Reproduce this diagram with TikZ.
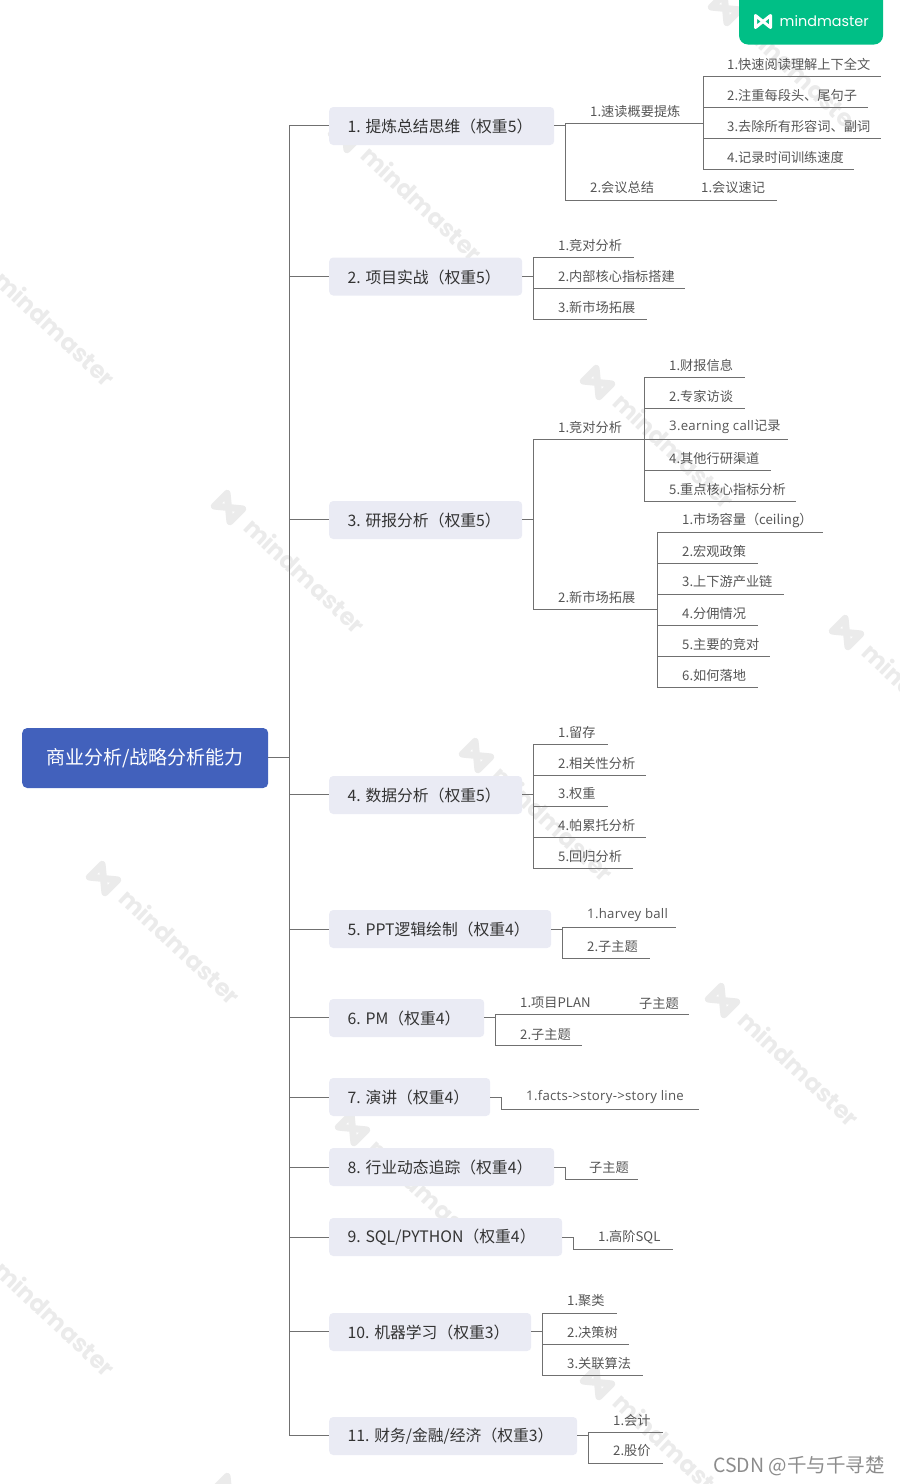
\documentclass[tikz,border=0pt]{standalone}
\usepackage{fontspec}
\setmainfont{Noto Sans CJK SC}
\newfontfamily\wmfont{Poppins}
\newfontfamily\latinfont[LetterSpace=2]{Open Sans}
\begin{document}
\begin{tikzpicture}[x=1pt,y=-1pt,shift={(0.5,0.5)},
  branch/.style={draw=linegray,line width=1pt},
  leaf/.style={anchor=west,inner sep=0pt,text=leafgray,font=\fontsize{13.2}{15}\selectfont},
  topic/.style={anchor=west,fill=topicfill,rounded corners=4pt,minimum height=38pt,inner sep=0pt},
  topictext/.style={anchor=west,inner sep=0pt,text=topicgray,font=\fontsize{15.8}{18}\selectfont},
  root/.style={anchor=west,fill=rootblue,rounded corners=5pt,minimum width=246pt,minimum height=60pt,
    inner sep=0pt,text=white,font=\fontsize{19}{22}\selectfont},
  wmtext/.style={anchor=west,inner sep=0pt,text=wmgray,font=\wmfont\bfseries\fontsize{24}{26}\selectfont,rotate=-43},
  wmicon/.style={draw=wmgray,line width=7pt,line join=round},
]
\definecolor{linegray}{HTML}{707070}
\definecolor{leafgray}{HTML}{555555}
\definecolor{topicgray}{HTML}{333333}
\definecolor{topicfill}{HTML}{EAEBF4}
\definecolor{rootblue}{HTML}{4261BC}
\definecolor{wmgray}{HTML}{EBEBEB}
\definecolor{logogreen}{HTML}{00BF86}
\useasboundingbox (-0.5,-0.5) rectangle (899.5,1483.5);

% the watermarks
\foreach \i/\x/\y in {1/725/8,2/345/135,3/-22/260,4/228/507,5/597/382,6/846/632,7/476/755,
  8/103/878,9/722/1000,10/352/1128,11/-22/1250,12/597/1382,13/228/1490} {
\draw[wmicon,shift={(\x,\y)},rotate=-45] (-11,-9) -- (11,9) -- (11,-9) -- (-11,9) -- cycle;
\node[wmtext] (wm\i) at (\x+20,\y+15) {mindmaster};
}

% the logo
\fill[logogreen,rounded corners=9pt] (738.5,-20) rectangle (882.5,44);
\draw[white,line width=3pt,line join=round] (755,15) -- (770,27) -- (770,15) -- (755,27) -- cycle;
\node[anchor=west,inner sep=0pt,text=white,font=\wmfont\fontsize{14.4}{18}\selectfont] (logo) at (779,21) {mindmaster};

% the root and the trunk
\node[root] (root) at (21.5,757.5) {商业分析/战略分析能力};
\coordinate (trunk) at (289,757);
\draw[branch] (root.east |- trunk) -- (trunk);

% the topics
\foreach \i/\y/\w/\t in {1/125.5/225/{1. 提炼总结思维（权重5）},2/276/193/{2. 项目实战（权重5）},
  3/519.5/193/{3. 研报分析（权重5）},4/794.5/193/{4. 数据分析（权重5）},5/928.5/222/{5. PPT逻辑绘制（权重4）},
  6/1017.5/155/{6. PM（权重4）},7/1096.5/161/{7. 演讲（权重4）},8/1166.5/225/{8. 行业动态追踪（权重4）},
  9/1236.5/233/{9. SQL/PYTHON（权重4）},10/1331.5/202/{10. 机器学习（权重3）},11/1435.5/248/{11. 财务/金融/经济（权重3）}}
{
\node[topic,minimum width=\w pt] (t\i) at (328.5,\y) {};
\node[topictext] (tt\i) at (347,\y+0.5) {\t};
}

% the junctions behind each topic
\foreach \i/\x/\y in {1/565/125,2/533/276,3/533/519,4/533/794,5/562/929,6/495/1017,7/501/1097,8/565/1167,9/573/1237,10/542/1331,11/588/1435} {
\coordinate (j\i) at (\x,\y);
\draw[branch] (trunk) |- (t\i.west |- j\i);
\draw[branch] (t\i.east |- j\i) -- (j\i);
}

% topic 1
\coordinate (ja) at (703,123);
\draw[branch] (j1) |- (ja);
\node[leaf] (la) at (589.5,110.5) {1.速读概要提炼};
\foreach \i/\y/\e/\t in {1/76/880/1.快速阅读理解上下全文,2/107/867/2.注重每段头、尾句子,
  3/138/880/3.去除所有形容词、副词,4/169/853/4.记录时间训练速度} {
\coordinate (ae\i) at (\e,\y);
\node[leaf] (a\i) at (726.5,\y-12.5) {\t};
\draw[branch] (ja) |- (ae\i);
}
\coordinate (je) at (776,200);
\draw[branch] (j1) |- (je);
\node[leaf] (lb) at (589.5,187.5) {2.会议总结};
\node[leaf] (b1) at (700.5,187.5) {1.会议速记};

% topic 2
\foreach \i/\y/\e/\t in {1/257/633/1.竞对分析,2/288/684/2.内部核心指标搭建,3/319/646/3.新市场拓展} {
\coordinate (ce\i) at (\e,\y);
\node[leaf] (c\i) at (557.5,\y-12.5) {\t};
\draw[branch] (j2) |- (ce\i);
}

% topic 3
\coordinate (jd) at (644,439);
\coordinate (jf) at (657,609);
\draw[branch] (j3) |- (jd);
\draw[branch] (j3) |- (jf);
\node[leaf] (ld) at (557.5,426.5) {1.竞对分析};
\node[leaf] (lf) at (557.5,596.5) {2.新市场拓展};
\foreach \i/\y/\e/\t in {1/377/744/1.财报信息,2/408/744/2.专家访谈,3/439/787/{\latinfont 3.earning call}记录,
  4/470/770/4.其他行研渠道,5/501/795/5.重点核心指标分析} {
\coordinate (de\i) at (\e,\y);
\node[leaf] (d\i) at (668.5,\y-12.5) {\t};
\draw[branch] (jd) |- (de\i);
}
\foreach \i/\y/\e/\t in {1/532/822/1.市场容量（ceiling）,2/563/757/2.宏观政策,3/594/783/3.上下游产业链,
  4/625/757/4.分佣情况,5/656/769/5.主要的竞对,6/687/757/6.如何落地} {
\coordinate (fe\i) at (\e,\y);
\node[leaf] (f\i) at (681.5,\y-12.5) {\t};
\draw[branch] (jf) |- (fe\i);
}

% topic 4
\foreach \i/\y/\e/\t in {1/744/607/1.留存,2/775/645/2.相关性分析,3/806/607/3.权重,
  4/837/645/4.帕累托分析,5/868/632/5.回归分析} {
\coordinate (ge\i) at (\e,\y);
\node[leaf] (g\i) at (557.5,\y-12.5) {\t};
\draw[branch] (j4) |- (ge\i);
}

% topic 5
\foreach \i/\y/\e/\t in {1/927/675/{\latinfont 1.harvey ball},2/958/649/2.子主题} {
\coordinate (he\i) at (\e,\y);
\node[leaf] (h\i) at (586.5,\y-12.5) {\t};
\draw[branch] (j5) |- (he\i);
}

% topic 6
\foreach \i/\y/\e/\t in {1/1014/688/1.项目PLAN,2/1045/581/2.子主题} {
\coordinate (ke\i) at (\e,\y);
\node[leaf] (k\i) at (519.5,\y-11.5) {\t};
\draw[branch] (j6) |- (ke\i);
}
\node[leaf] (k3) at (638.5,1002.5) {子主题};

% topics 7 to 9
\foreach \i/\x/\y/\e/\t in {7/525.5/1109/698/{\latinfont 1.facts->story->story line},8/588.5/1179/637/子主题,9/597.5/1249/672/1.高阶SQL} {
\coordinate (me\i) at (\e,\y);
\node[leaf] (m\i) at (\x,\y-12) {\t};
\draw[branch] (j\i) |- (me\i);
}

% topic 10
\foreach \i/\y/\e/\t in {1/1313/616/1.聚类,2/1344/628/2.决策树,3/1375/642/3.关联算法} {
\coordinate (ne\i) at (\e,\y);
\node[leaf] (n\i) at (566.5,\y-12.5) {\t};
\draw[branch] (j10) |- (ne\i);
}

% topic 11
\foreach \i/\y/\e/\t in {1/1432/662/1.会计,2/1463/662/2.股价} {
\coordinate (pe\i) at (\e,\y);
\node[leaf] (p\i) at (612.5,\y-12.5) {\t};
\draw[branch] (j11) |- (pe\i);
}

\node[anchor=west,inner sep=0pt,text=black!45,font=\fontsize{19.5}{22}\selectfont] (csdn) at (712.5,1465.5) {CSDN @千与千寻楚};
\end{tikzpicture}
\end{document}
